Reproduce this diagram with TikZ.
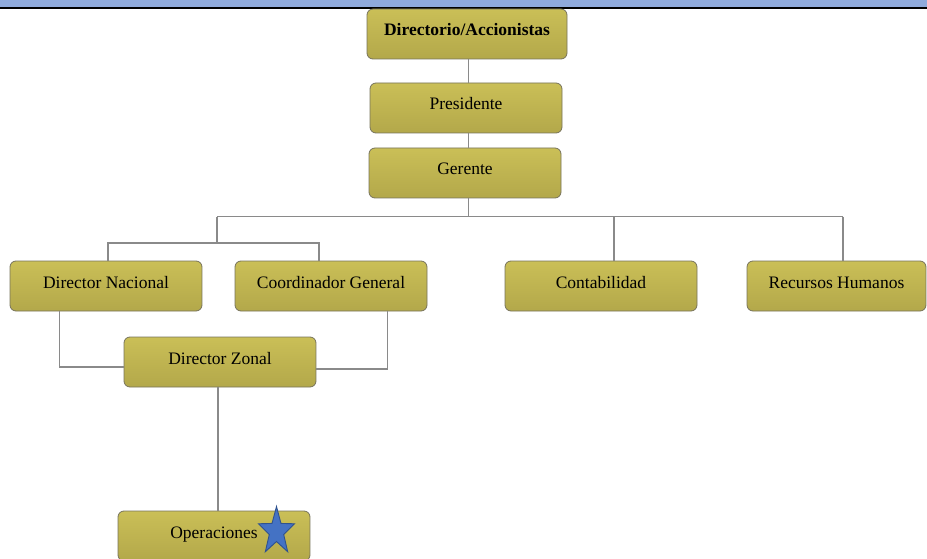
\documentclass[tikz,border=0pt]{standalone}
\usepackage{fontspec}
\setmainfont{Liberation Serif}
\usetikzlibrary{calc}

\definecolor{boxtop}{HTML}{CABF57}
\definecolor{boxbot}{HTML}{B3A84A}
\definecolor{boxedge}{HTML}{77735C}
\definecolor{wire}{HTML}{8A8A8A}
\definecolor{band}{HTML}{8FAADC}
\definecolor{starfill}{HTML}{4472C4}
\definecolor{staredge}{HTML}{2F528F}

\tikzset{
  orgbox/.style={draw=boxedge, line width=0.8pt, rounded corners=6pt,
    top color=boxtop, bottom color=boxbot,
    minimum width=192pt, inner xsep=4pt, inner ysep=0pt,
    text height=27pt, text depth=23pt,
    font=\fontsize{17.5}{20}\selectfont},
  wireline/.style={draw=wire, line width=1.1pt}
}

\begin{document}
\begin{tikzpicture}[x=1pt, y=-1pt]
  \useasboundingbox (0,0) rectangle (927,559);
  \clip (0,0) rectangle (927,559);

  % header band
  \fill[band] (0,0) rectangle (927,7.3);
  \fill[black] (0,7.3) rectangle (927,9.4);

  % boxes
  \node[orgbox, minimum width=200pt, font=\fontsize{17.5}{20}\selectfont\bfseries]
       (dir) at (467,34) {Directorio/Accionistas};
  \node[orgbox] (pres) at (466,108) {Presidente};
  \node[orgbox] (ger)  at (465,173) {Gerente};
  \node[orgbox] (dnat) at (106,286) {Director Nacional};
  \node[orgbox] (cg)   at (331,286) {Coordinador General};
  \node[orgbox] (cont) at (601,286) {Contabilidad};
  \node[orgbox, minimum width=179pt] (rh) at (836.5,286) {Recursos Humanos};
  \node[orgbox] (dz)   at (220,362) {Director Zonal};
  \node[orgbox] (ops)  at (214,536) {Operaciones};

  % bus coordinates
  \coordinate (busL) at (217,216.5);
  \coordinate (busR) at (843,216.5);
  \coordinate (sub)  at (217,243);

  % connectors
  \draw[wireline] ($(dir.south)+(1.5,0)$) -- ($(dir.south |- pres.north)+(1.5,0)$);
  \draw[wireline] ($(pres.south)+(2.5,0)$) -- ($(pres.south |- ger.north)+(2.5,0)$);
  \draw[wireline] ($(ger.south)+(3.5,0)$) -- ($(ger.south |- busL)+(3.5,0)$);
  \draw[wireline] (busL) -- (busR);
  \draw[wireline] (busR) -- (busR |- rh.north);
  \draw[wireline] ($(cont.north)+(13,0)$) -- ($(cont.north |- busL)+(13,0)$);
  \draw[wireline] (busL) -- (sub);
  \draw[wireline] ($(dnat.north)+(2,0)$) |- (sub) -| ($(cg.north)+(-12,0)$);
  \draw[wireline] ($(dnat.south west)+(50,0)$) |- ($(dz.west)+(0,5)$);
  \draw[wireline] ($(cg.south west)+(153,0)$) |- ($(dz.east)+(0,7)$);
  \draw[wireline] ($(dz.south)+(-2,0)$) -- ($(dz.south |- ops.north)+(-2,0)$);

  % star on the Operaciones box
  \begin{scope}[shift={(276.5,531.5)}, xscale=0.76]
    \filldraw[fill=starfill, draw=staredge, line width=0.9pt, line join=miter]
      (90:-25) -- (126:-10) -- (162:-25) -- (198:-10) -- (234:-25)
      -- (270:-10) -- (306:-25) -- (342:-10) -- (18:-25) -- (54:-10) -- cycle;
  \end{scope}
\end{tikzpicture}
\end{document}
